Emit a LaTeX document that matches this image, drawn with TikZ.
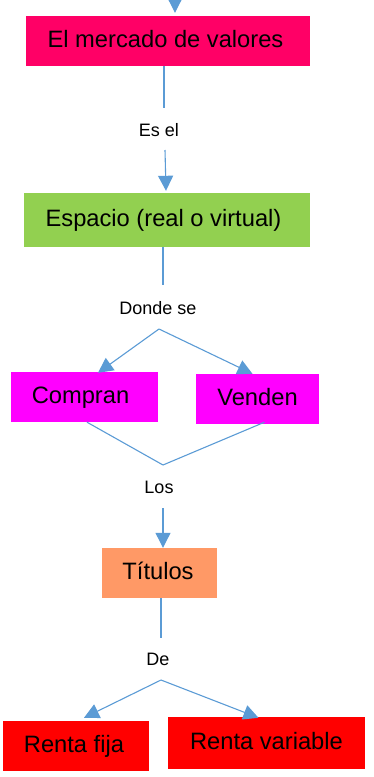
\documentclass[tikz,border=0pt]{standalone}
\usepackage{fontspec}
\setmainfont{Liberation Sans}
\usetikzlibrary{arrows.meta}
\definecolor{lnblue}{HTML}{5B9BD5}
\definecolor{cpink}{HTML}{FF0066}
\definecolor{cgreen}{HTML}{92D050}
\definecolor{cmag}{HTML}{FF00FF}
\definecolor{corange}{HTML}{FF9966}
\definecolor{cred}{HTML}{FF0000}
\begin{document}
\begin{tikzpicture}[x=1pt,y=-1pt,
  box/.style={rectangle, inner sep=0pt, text height=17pt, text depth=5pt, font=\fontsize{23.7}{28}\selectfont},
  lbl/.style={inner sep=0pt, font=\fontsize{18}{22}\selectfont},
  conn/.style={draw=lnblue, line width=1.1pt},
  arr/.style={conn, -{Triangle[length=15pt,width=15pt]}}]
\useasboundingbox (0,0) rectangle (374,777);
% boxes
\node[box, fill=cpink, minimum width=284pt, minimum height=50pt] (b1) at (168,41) {\hspace*{-5pt}El mercado de valores};
\node[box, fill=cgreen, minimum width=286pt, minimum height=54pt] (b2) at (167,220) {\hspace*{-7pt}Espacio (real o virtual)};
\node[box, fill=cmag, minimum width=147pt, minimum height=50pt] (comp) at (84.5,397) {\hspace*{-8pt}Compran};
\node[box, fill=cmag, minimum width=123pt, minimum height=50pt] (vend) at (257.5,399) {Venden};
\node[box, fill=corange, minimum width=115pt, minimum height=50pt] (tit) at (159.5,573) {\hspace*{-3pt}Títulos};
\node[box, fill=cred, minimum width=146pt, minimum height=50pt] (rf) at (76,746) {\hspace*{-4pt}Renta fija};
\node[box, fill=cred, minimum width=197pt, minimum height=52pt] (rv) at (266.5,743) {Renta variable};
% labels
\node[lbl] (l1) at (159,130) {Es el};
\node[lbl] (l2) at (158,308) {Donde se};
\node[lbl] (l3) at (159,487) {Los};
\node[lbl] (l4) at (158,659) {De};
% coordinates
\coordinate (top) at (175,-10);
\coordinate (a1) at (164,108);
\coordinate (a2) at (165,150);
\coordinate (c1) at (163,285);
\coordinate (c2) at (159,329);
\coordinate (m) at (163,465);
\coordinate (e1) at (163,508);
\coordinate (g1) at (161,638);
\coordinate (g2) at (161,680);
% connectors
\draw[arr] (top) -- ([xshift=7pt,yshift=3pt]b1.north);
\draw[conn] ([xshift=-4pt]b1.south) -- (a1);
\draw[arr] (a2) -- ([xshift=-1pt,yshift=2pt]b2.north);
\draw[conn] ([xshift=-4pt]b2.south) -- (c1);
\draw[arr] (c2) -- ([xshift=13.5pt,yshift=-1pt]comp.north);
\draw[arr] (c2) -- ([xshift=-5pt]vend.north);
\draw[conn] ([xshift=2.5pt]comp.south) -- (m);
\draw[conn] ([xshift=7pt,yshift=2pt]vend.south) -- (m);
\draw[arr] (e1) -- ([xshift=3.5pt]tit.north);
\draw[conn] ([xshift=1.5pt]tit.south) -- (g1);
\draw[arr] (g2) -- ([xshift=8pt,yshift=3pt]rf.north);
\draw[arr] (g2) -- ([xshift=-8pt,yshift=-1pt]rv.north);
\end{tikzpicture}
\end{document}
